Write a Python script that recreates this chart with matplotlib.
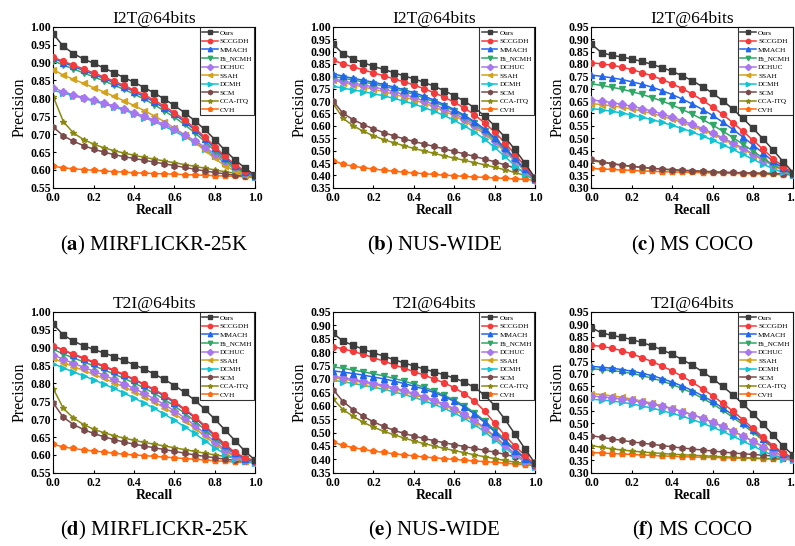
import matplotlib
matplotlib.use("Agg")
import matplotlib.pyplot as plt

plt.rcParams['font.family'] = ['Liberation Serif', 'DejaVu Serif']
plt.rcParams['mathtext.fontset'] = 'stix'

recall = [0.0, 0.05, 0.1, 0.15, 0.2, 0.25, 0.3, 0.35, 0.4, 0.45, 0.5,
          0.55, 0.6, 0.65, 0.7, 0.75, 0.8, 0.85, 0.9, 0.95, 1.0]

methods = ['Ours', 'SCCGDH', 'MMACH', 'Bi_NCMH', 'DCHUC', 'SSAH', 'DCMH', 'SCM', 'CCA-ITQ', 'CVH']
colors = ['#3c3c3c', '#f43a3a', '#2266ee', '#2fa866', '#a876ee', '#d4a21a', '#10c4d4', '#7b4a4a', '#8a8a10', '#ff6a10']
markers = ['s', 'o', '^', 'v', 'D', '<', '>', 'h', '*', 'p']

# (a) I2T MIRFLICKR-25K
mir_i2t = [
    [0.98, 0.945, 0.925, 0.91, 0.898, 0.885, 0.872, 0.858, 0.845, 0.83, 0.815, 0.798, 0.78, 0.76, 0.738, 0.713, 0.685, 0.655, 0.628, 0.605, 0.585],
    [0.915, 0.903, 0.893, 0.882, 0.871, 0.86, 0.848, 0.836, 0.823, 0.81, 0.795, 0.778, 0.76, 0.74, 0.717, 0.692, 0.665, 0.638, 0.615, 0.597, 0.585],
    [0.912, 0.9, 0.889, 0.878, 0.867, 0.856, 0.844, 0.832, 0.819, 0.805, 0.79, 0.773, 0.755, 0.735, 0.712, 0.687, 0.66, 0.634, 0.612, 0.595, 0.583],
    [0.905, 0.893, 0.882, 0.871, 0.86, 0.849, 0.837, 0.825, 0.812, 0.798, 0.782, 0.765, 0.747, 0.727, 0.704, 0.68, 0.653, 0.628, 0.607, 0.592, 0.582],
    [0.83, 0.818, 0.81, 0.802, 0.795, 0.787, 0.779, 0.77, 0.76, 0.75, 0.739, 0.727, 0.713, 0.698, 0.682, 0.664, 0.645, 0.625, 0.607, 0.592, 0.582],
    [0.88, 0.865, 0.853, 0.842, 0.83, 0.818, 0.806, 0.793, 0.78, 0.766, 0.751, 0.735, 0.717, 0.698, 0.677, 0.655, 0.632, 0.612, 0.597, 0.587, 0.58],
    [0.822, 0.815, 0.807, 0.8, 0.792, 0.784, 0.776, 0.767, 0.757, 0.746, 0.735, 0.722, 0.708, 0.693, 0.677, 0.659, 0.64, 0.62, 0.603, 0.59, 0.58],
    [0.72, 0.695, 0.68, 0.668, 0.658, 0.65, 0.643, 0.637, 0.632, 0.627, 0.622, 0.617, 0.612, 0.607, 0.602, 0.597, 0.593, 0.589, 0.585, 0.582, 0.58],
    [0.805, 0.735, 0.703, 0.685, 0.672, 0.662, 0.654, 0.647, 0.641, 0.635, 0.63, 0.625, 0.62, 0.615, 0.61, 0.605, 0.6, 0.595, 0.591, 0.587, 0.585],
    [0.61, 0.606, 0.603, 0.601, 0.599, 0.597, 0.595, 0.594, 0.592, 0.591, 0.59, 0.589, 0.588, 0.587, 0.586, 0.585, 0.584, 0.583, 0.582, 0.581, 0.58],
]

# (b) I2T NUS-WIDE
nus_i2t = [
    [0.93, 0.89, 0.87, 0.855, 0.84, 0.828, 0.815, 0.802, 0.79, 0.776, 0.76, 0.742, 0.722, 0.7, 0.673, 0.64, 0.6, 0.555, 0.505, 0.45, 0.39],
    [0.865, 0.85, 0.838, 0.826, 0.814, 0.802, 0.79, 0.778, 0.765, 0.75, 0.734, 0.716, 0.695, 0.672, 0.645, 0.612, 0.575, 0.532, 0.486, 0.437, 0.385],
    [0.81, 0.8, 0.792, 0.784, 0.776, 0.767, 0.757, 0.746, 0.734, 0.72, 0.704, 0.686, 0.666, 0.643, 0.617, 0.587, 0.552, 0.512, 0.47, 0.425, 0.385],
    [0.8, 0.792, 0.785, 0.777, 0.769, 0.76, 0.75, 0.739, 0.727, 0.713, 0.697, 0.68, 0.66, 0.637, 0.611, 0.581, 0.546, 0.507, 0.466, 0.423, 0.385],
    [0.79, 0.781, 0.773, 0.765, 0.757, 0.748, 0.738, 0.727, 0.715, 0.701, 0.686, 0.669, 0.65, 0.628, 0.603, 0.574, 0.54, 0.502, 0.462, 0.42, 0.383],
    [0.785, 0.775, 0.766, 0.757, 0.748, 0.738, 0.728, 0.717, 0.705, 0.692, 0.677, 0.66, 0.641, 0.62, 0.595, 0.567, 0.534, 0.497, 0.458, 0.418, 0.383],
    [0.76, 0.752, 0.745, 0.738, 0.73, 0.721, 0.711, 0.7, 0.688, 0.674, 0.659, 0.642, 0.622, 0.6, 0.575, 0.546, 0.513, 0.477, 0.44, 0.405, 0.38],
    [0.7, 0.65, 0.625, 0.605, 0.588, 0.573, 0.56, 0.548, 0.537, 0.527, 0.517, 0.507, 0.497, 0.487, 0.477, 0.466, 0.455, 0.443, 0.43, 0.415, 0.395],
    [0.69, 0.63, 0.6, 0.578, 0.56, 0.545, 0.532, 0.52, 0.509, 0.499, 0.489, 0.479, 0.47, 0.461, 0.452, 0.443, 0.433, 0.423, 0.412, 0.4, 0.388],
    [0.46, 0.445, 0.437, 0.431, 0.426, 0.421, 0.417, 0.413, 0.41, 0.407, 0.404, 0.401, 0.399, 0.396, 0.394, 0.392, 0.39, 0.388, 0.386, 0.384, 0.38],
]

# (c) I2T MS COCO
coco_i2t = [
    [0.88, 0.845, 0.835, 0.828, 0.82, 0.81, 0.798, 0.785, 0.77, 0.752, 0.732, 0.708, 0.682, 0.652, 0.618, 0.58, 0.54, 0.497, 0.452, 0.405, 0.36],
    [0.805, 0.8, 0.795, 0.787, 0.777, 0.765, 0.752, 0.737, 0.72, 0.7, 0.678, 0.653, 0.626, 0.596, 0.563, 0.528, 0.492, 0.455, 0.418, 0.385, 0.36],
    [0.755, 0.75, 0.744, 0.737, 0.728, 0.718, 0.706, 0.692, 0.676, 0.658, 0.638, 0.616, 0.592, 0.565, 0.536, 0.505, 0.473, 0.44, 0.407, 0.378, 0.355],
    [0.72, 0.713, 0.706, 0.698, 0.688, 0.677, 0.664, 0.65, 0.634, 0.616, 0.597, 0.576, 0.553, 0.529, 0.503, 0.476, 0.448, 0.42, 0.393, 0.372, 0.355],
    [0.655, 0.65, 0.644, 0.637, 0.629, 0.62, 0.61, 0.598, 0.585, 0.571, 0.556, 0.539, 0.521, 0.502, 0.481, 0.46, 0.437, 0.414, 0.392, 0.372, 0.355],
    [0.64, 0.636, 0.631, 0.625, 0.618, 0.61, 0.6, 0.589, 0.577, 0.564, 0.549, 0.533, 0.516, 0.497, 0.477, 0.456, 0.434, 0.411, 0.39, 0.371, 0.355],
    [0.62, 0.615, 0.609, 0.602, 0.594, 0.585, 0.575, 0.564, 0.552, 0.539, 0.525, 0.509, 0.492, 0.474, 0.455, 0.435, 0.415, 0.395, 0.377, 0.362, 0.35],
    [0.415, 0.405, 0.398, 0.392, 0.387, 0.383, 0.379, 0.376, 0.373, 0.371, 0.369, 0.367, 0.365, 0.363, 0.362, 0.361, 0.36, 0.359, 0.358, 0.357, 0.355],
    [0.41, 0.403, 0.397, 0.391, 0.386, 0.382, 0.378, 0.375, 0.372, 0.37, 0.368, 0.366, 0.364, 0.362, 0.361, 0.36, 0.359, 0.358, 0.357, 0.356, 0.355],
    [0.378, 0.376, 0.374, 0.372, 0.37, 0.368, 0.367, 0.365, 0.364, 0.363, 0.362, 0.361, 0.36, 0.359, 0.358, 0.357, 0.356, 0.355, 0.354, 0.353, 0.352],
]

# (d) T2I MIRFLICKR-25K
mir_t2i = [
    [0.965, 0.935, 0.918, 0.905, 0.895, 0.885, 0.875, 0.864, 0.852, 0.84, 0.826, 0.811, 0.794, 0.775, 0.753, 0.728, 0.7, 0.67, 0.64, 0.61, 0.585],
    [0.905, 0.893, 0.882, 0.871, 0.86, 0.849, 0.837, 0.825, 0.812, 0.798, 0.783, 0.767, 0.749, 0.729, 0.707, 0.682, 0.656, 0.63, 0.607, 0.592, 0.583],
    [0.905, 0.892, 0.88, 0.869, 0.858, 0.847, 0.835, 0.823, 0.81, 0.796, 0.781, 0.764, 0.746, 0.726, 0.704, 0.679, 0.653, 0.627, 0.605, 0.59, 0.582],
    [0.895, 0.882, 0.871, 0.86, 0.849, 0.838, 0.826, 0.814, 0.801, 0.787, 0.772, 0.755, 0.737, 0.717, 0.695, 0.671, 0.646, 0.622, 0.602, 0.588, 0.581],
    [0.88, 0.867, 0.856, 0.845, 0.834, 0.823, 0.811, 0.799, 0.786, 0.772, 0.757, 0.741, 0.723, 0.704, 0.683, 0.66, 0.637, 0.615, 0.597, 0.585, 0.58],
    [0.87, 0.858, 0.847, 0.836, 0.825, 0.814, 0.802, 0.79, 0.777, 0.763, 0.748, 0.732, 0.715, 0.696, 0.675, 0.653, 0.631, 0.611, 0.595, 0.584, 0.58],
    [0.855, 0.843, 0.832, 0.821, 0.81, 0.798, 0.786, 0.773, 0.759, 0.745, 0.73, 0.714, 0.697, 0.679, 0.66, 0.64, 0.62, 0.603, 0.59, 0.582, 0.578],
    [0.745, 0.705, 0.685, 0.671, 0.66, 0.651, 0.643, 0.636, 0.63, 0.625, 0.62, 0.615, 0.61, 0.605, 0.6, 0.596, 0.592, 0.588, 0.585, 0.582, 0.58],
    [0.785, 0.73, 0.703, 0.685, 0.672, 0.662, 0.654, 0.647, 0.641, 0.635, 0.63, 0.625, 0.62, 0.615, 0.61, 0.605, 0.6, 0.596, 0.592, 0.589, 0.587],
    [0.63, 0.622, 0.618, 0.614, 0.611, 0.608, 0.605, 0.602, 0.6, 0.598, 0.596, 0.594, 0.592, 0.59, 0.588, 0.586, 0.584, 0.582, 0.58, 0.579, 0.578],
]

# (e) T2I NUS-WIDE
nus_t2i = [
    [0.87, 0.84, 0.825, 0.81, 0.797, 0.785, 0.772, 0.76, 0.748, 0.737, 0.726, 0.715, 0.703, 0.688, 0.668, 0.64, 0.6, 0.55, 0.495, 0.44, 0.385],
    [0.82, 0.812, 0.802, 0.791, 0.779, 0.766, 0.753, 0.74, 0.727, 0.714, 0.7, 0.685, 0.667, 0.645, 0.617, 0.58, 0.535, 0.49, 0.45, 0.415, 0.38],
    [0.73, 0.725, 0.72, 0.714, 0.707, 0.7, 0.692, 0.683, 0.673, 0.662, 0.649, 0.634, 0.616, 0.595, 0.569, 0.538, 0.503, 0.467, 0.433, 0.403, 0.378],
    [0.745, 0.739, 0.733, 0.726, 0.719, 0.711, 0.702, 0.692, 0.681, 0.669, 0.655, 0.639, 0.621, 0.6, 0.574, 0.544, 0.51, 0.474, 0.438, 0.406, 0.38],
    [0.71, 0.704, 0.698, 0.691, 0.684, 0.676, 0.667, 0.657, 0.646, 0.634, 0.621, 0.606, 0.589, 0.569, 0.546, 0.518, 0.487, 0.454, 0.422, 0.395, 0.375],
    [0.705, 0.699, 0.693, 0.686, 0.679, 0.671, 0.662, 0.652, 0.641, 0.629, 0.616, 0.601, 0.584, 0.564, 0.541, 0.514, 0.483, 0.451, 0.42, 0.394, 0.375],
    [0.695, 0.689, 0.683, 0.676, 0.669, 0.661, 0.652, 0.642, 0.631, 0.619, 0.605, 0.59, 0.573, 0.553, 0.53, 0.503, 0.474, 0.444, 0.415, 0.391, 0.373],
    [0.66, 0.615, 0.585, 0.56, 0.54, 0.523, 0.509, 0.497, 0.487, 0.478, 0.47, 0.462, 0.455, 0.448, 0.441, 0.434, 0.427, 0.419, 0.41, 0.4, 0.39],
    [0.625, 0.585, 0.56, 0.538, 0.52, 0.505, 0.492, 0.48, 0.469, 0.459, 0.45, 0.441, 0.433, 0.425, 0.417, 0.41, 0.403, 0.396, 0.39, 0.385, 0.38],
    [0.465, 0.452, 0.444, 0.437, 0.431, 0.426, 0.421, 0.417, 0.413, 0.409, 0.406, 0.403, 0.4, 0.397, 0.394, 0.392, 0.389, 0.386, 0.383, 0.38, 0.377],
]

# (f) T2I MS COCO
coco_t2i = [
    [0.885, 0.865, 0.855, 0.847, 0.838, 0.826, 0.812, 0.796, 0.778, 0.757, 0.734, 0.708, 0.68, 0.649, 0.615, 0.578, 0.538, 0.496, 0.452, 0.407, 0.37],
    [0.815, 0.81, 0.803, 0.793, 0.78, 0.765, 0.749, 0.731, 0.711, 0.689, 0.665, 0.639, 0.611, 0.581, 0.549, 0.515, 0.479, 0.443, 0.409, 0.38, 0.36],
    [0.73, 0.726, 0.722, 0.717, 0.71, 0.702, 0.692, 0.68, 0.666, 0.65, 0.632, 0.611, 0.588, 0.562, 0.534, 0.503, 0.471, 0.438, 0.405, 0.377, 0.36],
    [0.72, 0.717, 0.713, 0.708, 0.701, 0.692, 0.682, 0.67, 0.656, 0.64, 0.622, 0.601, 0.578, 0.552, 0.524, 0.494, 0.463, 0.431, 0.4, 0.374, 0.358],
    [0.61, 0.607, 0.603, 0.598, 0.592, 0.585, 0.577, 0.568, 0.558, 0.547, 0.534, 0.52, 0.504, 0.487, 0.468, 0.448, 0.427, 0.405, 0.385, 0.367, 0.355],
    [0.62, 0.616, 0.611, 0.605, 0.598, 0.59, 0.581, 0.571, 0.56, 0.548, 0.535, 0.521, 0.505, 0.488, 0.469, 0.449, 0.428, 0.406, 0.386, 0.368, 0.355],
    [0.597, 0.594, 0.59, 0.585, 0.578, 0.57, 0.561, 0.551, 0.54, 0.528, 0.515, 0.5, 0.484, 0.467, 0.448, 0.428, 0.408, 0.388, 0.37, 0.357, 0.35],
    [0.45, 0.443, 0.437, 0.431, 0.425, 0.42, 0.415, 0.41, 0.405, 0.4, 0.396, 0.392, 0.388, 0.384, 0.38, 0.377, 0.374, 0.371, 0.368, 0.365, 0.362],
    [0.41, 0.403, 0.397, 0.392, 0.388, 0.384, 0.381, 0.378, 0.375, 0.373, 0.371, 0.369, 0.367, 0.365, 0.363, 0.361, 0.36, 0.358, 0.357, 0.356, 0.355],
    [0.382, 0.38, 0.378, 0.376, 0.374, 0.372, 0.37, 0.368, 0.367, 0.365, 0.364, 0.363, 0.362, 0.361, 0.36, 0.359, 0.358, 0.357, 0.356, 0.355, 0.354],
]

panels = [
    (mir_i2t, 'I2T@64bits', (0.55, 1.00), 'a', 'MIRFLICKR-25K'),
    (nus_i2t, 'I2T@64bits', (0.35, 1.00), 'b', 'NUS-WIDE'),
    (coco_i2t, 'I2T@64bits', (0.30, 0.95), 'c', 'MS COCO'),
    (mir_t2i, 'T2I@64bits', (0.55, 1.00), 'd', 'MIRFLICKR-25K'),
    (nus_t2i, 'T2I@64bits', (0.35, 0.95), 'e', 'NUS-WIDE'),
    (coco_t2i, 'T2I@64bits', (0.30, 0.95), 'f', 'MS COCO'),
]

fig = plt.figure(figsize=(7.95, 5.46), dpi=100)
lefts = [0.067, 0.419, 0.744]
bottoms = [0.656, 0.134]
w, h = 0.254, 0.295

for i, (data, title, (ylo, yhi), letter, name) in enumerate(panels):
    row, col = divmod(i, 3)
    ax = fig.add_axes([lefts[col], bottoms[row], w, h])
    for k, m in enumerate(methods):
        ax.plot(recall, data[k], color=colors[k], marker=markers[k], markersize=4.2,
                linewidth=1.1, label=m, zorder=10 - k)
    ax.set_xlim(0, 1)
    ax.set_ylim(ylo, yhi)
    ax.set_xticks([0.0, 0.2, 0.4, 0.6, 0.8, 1.0])
    yt = [round(ylo + 0.05 * j, 2) for j in range(int(round((yhi - ylo) / 0.05)) + 1)]
    ax.set_yticks(yt)
    ax.set_yticklabels([f'{v:.2f}' for v in yt])
    ax.tick_params(labelsize=8.5, direction='in', length=2.5)
    ax.tick_params(axis='x', pad=3)
    ax.tick_params(axis='y', pad=1.5)
    for lab in ax.get_xticklabels() + ax.get_yticklabels():
        lab.set_fontweight('bold')
    ax.set_title(title, fontsize=12.5, pad=1.5)
    ax.set_xlabel('Recall', fontsize=10, fontweight='bold', labelpad=0)
    ax.set_ylabel('Precision', fontsize=11.5, labelpad=2)
    leg = ax.legend(loc='upper right', fontsize=5.2, frameon=True, fancybox=False,
                    edgecolor='black', borderaxespad=0.1, labelspacing=0.35,
                    handlelength=2.2, handletextpad=0.3, borderpad=0.3, markerscale=0.75)
    leg.get_frame().set_linewidth(0.8)
    fig.text(lefts[col] + w / 2, bottoms[row] - 0.105, rf'($\mathbf{{{letter}}}$) {name}',
             ha='center', va='center', fontsize=15)

fig.savefig('out.png', dpi=100)
